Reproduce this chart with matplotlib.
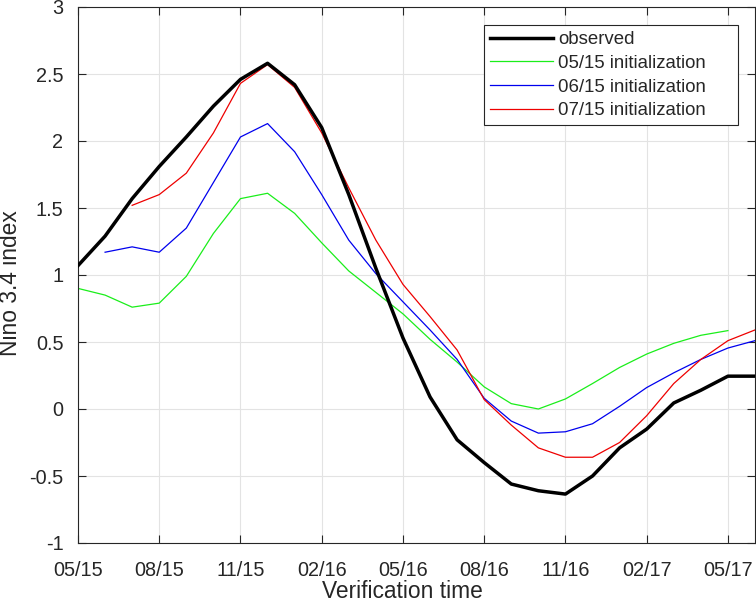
import matplotlib
matplotlib.use("Agg")
import matplotlib.pyplot as plt
import numpy as np

plt.rcParams['font.family'] = ['Liberation Sans', 'DejaVu Sans']

# months since 05/15
tick_labels = ["05/15", "08/15", "11/15", "02/16", "05/16", "08/16", "11/16", "02/17", "05/17"]
tick_months = [0, 3, 6, 9, 12, 15, 18, 21, 24]

observed = [1.07, 1.29, 1.57, 1.81, 2.03, 2.26, 2.46, 2.58, 2.42, 2.10, 1.60, 1.05, 0.53,
            0.09, -0.23, -0.40, -0.56, -0.61, -0.635, -0.50, -0.29, -0.15, 0.045, 0.14, 0.245, 0.245]
obs_start = 0

init_0515 = [0.90, 0.85, 0.76, 0.79, 0.99, 1.31, 1.57, 1.61, 1.46, 1.24, 1.03, 0.87, 0.71,
             0.52, 0.35, 0.165, 0.04, 0.00, 0.075, 0.19, 0.31, 0.41, 0.49, 0.55, 0.585]
start_0515 = 0

init_0615 = [1.17, 1.21, 1.17, 1.35, 1.69, 2.03, 2.13, 1.92, 1.60, 1.26, 1.01, 0.80,
             0.59, 0.37, 0.08, -0.09, -0.18, -0.17, -0.11, 0.02, 0.16, 0.27, 0.37, 0.455, 0.51]
start_0615 = 1

init_0715 = [1.52, 1.60, 1.76, 2.06, 2.43, 2.57, 2.40, 2.06, 1.65, 1.26, 0.93,
             0.69, 0.44, 0.07, -0.12, -0.29, -0.36, -0.36, -0.25, -0.05, 0.19, 0.37, 0.51, 0.59]
start_0715 = 2

fig = plt.figure(figsize=(7.56, 6.02), dpi=100)
ax = fig.add_axes([78/756, 59/602, (755-78)/756, (543-7)/602])

axc = '#262626'
ax.plot(np.arange(len(observed)) + obs_start, observed, color='black', lw=2.5, label='observed', zorder=5)
ax.plot(np.arange(len(init_0515)) + start_0515, init_0515, color='#1aee1a', lw=0.9, label='05/15 initialization')
ax.plot(np.arange(len(init_0615)) + start_0615, init_0615, color='#0000ee', lw=0.9, label='06/15 initialization')
ax.plot(np.arange(len(init_0715)) + start_0715, init_0715, color='#ee0000', lw=0.9, label='07/15 initialization')

ax.set_xlim(0, 25)
ax.set_ylim(-1, 3)
ax.set_xticks(tick_months)
ax.set_xticklabels(tick_labels)
ax.set_yticks([-1, -0.5, 0, 0.5, 1, 1.5, 2, 2.5, 3])
ax.set_yticklabels(['-1', '-0.5', '0', '0.5', '1', '1.5', '2', '2.5', '3'])
ax.grid(True, color='#e3e3e3', lw=0.8)
ax.set_axisbelow(True)
ax.tick_params(direction='in', top=True, right=True, length=6, width=0.8,
               colors=axc, labelsize=14.3)
ax.tick_params(axis='x', pad=13)
ax.tick_params(axis='y', pad=10.5)
for s in ax.spines.values():
    s.set_color(axc)
    s.set_linewidth(0.8)

ax.set_xlabel('Verification time', fontsize=16.4, color=axc, va='center', ha='center')
ax.xaxis.set_label_coords((402-78)/677, (543-591)/536)
ax.set_ylabel('Nino 3.4 index', fontsize=16.4, color=axc, va='center', ha='center')
ax.yaxis.set_label_coords((10.5-78)/677, (543-283)/536)

leg_x0 = (484-78)/677
leg_w = (738-484)/677
leg_top = 1 - 18/536
leg = ax.legend(loc='upper left', bbox_to_anchor=(leg_x0, 0.5, leg_w, leg_top - 0.5),
                mode='expand',
                fontsize=13.4, frameon=True, fancybox=False, framealpha=1,
                edgecolor=axc, handlelength=3.4, handletextpad=0.25,
                borderpad=0.33, labelspacing=0.36, borderaxespad=0)
leg.get_frame().set_linewidth(0.8)
for t in leg.get_texts():
    t.set_color(axc)

fig.savefig('out.png', dpi=100)
